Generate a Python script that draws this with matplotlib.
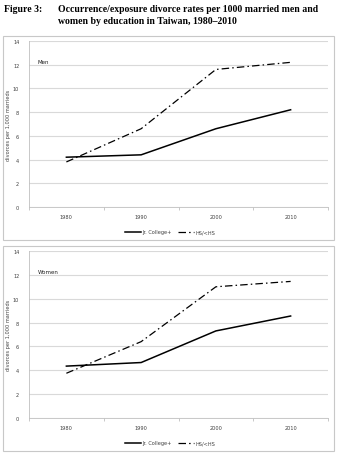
import numpy as np
import matplotlib.pyplot as plt
from matplotlib.patches import Rectangle

# ------------------------------------------------
# Data
# ------------------------------------------------
years = ["1980", "1990", "2000", "2010"]
men_college = [4.2, 4.4, 6.6, 8.2]
men_hs = [3.8, 6.6, 11.6, 12.2]
women_college = [4.35, 4.65, 7.3, 8.55]
women_hs = [3.75, 6.4, 11.0, 11.45]
yticks = [0, 2, 4, 6, 8, 10, 12, 14]

W, H = 338, 456
fig = plt.figure(figsize=(W / 100, H / 100), dpi=100)
fig.patch.set_facecolor("white")


def px_axes(left, top, right, bottom):
    return fig.add_axes([left / W, 1 - bottom / H, (right - left) / W, (bottom - top) / H])


def panel(box, area, college, hs, label, legend_y):
    # light gray frame around each chart
    bx0, by0, bx1, by1 = box
    fig.patches.append(Rectangle((bx0 / W, 1 - by1 / H), (bx1 - bx0) / W, (by1 - by0) / H,
                                 transform=fig.transFigure, fill=False,
                                 edgecolor="#c8c8c8", lw=0.8, zorder=0))
    ax = px_axes(*area)
    x = np.arange(len(years))
    l1, = ax.plot(x, college, color="black", lw=1.1, solid_joinstyle="miter")
    l2, = ax.plot(x, hs, color="black", lw=0.9, linestyle=(0, (6, 2.5, 1.2, 2.5)))
    ax.set_xlim(-0.5, len(years) - 0.5)
    ax.set_ylim(0, 14)
    ax.set_yticks(yticks)
    ax.set_yticklabels([str(v) for v in yticks])
    ax.set_xticks(x)
    ax.set_xticklabels(years)
    ax.set_xticks(np.arange(-0.5, len(years)), minor=True)
    ax.tick_params(axis="x", which="major", length=0, pad=5, labelsize=3.6, colors="#404040")
    ax.tick_params(axis="x", which="minor", length=2, color="#bfbfbf", width=0.6)
    ax.tick_params(axis="y", length=0, pad=7, labelsize=3.6, colors="#404040")
    ax.yaxis.grid(True, color="#d9d9d9", lw=0.8)
    ax.set_axisbelow(True)
    for s in ["top", "right"]:
        ax.spines[s].set_visible(False)
    ax.spines["left"].set_color("#bfbfbf")
    ax.spines["bottom"].set_color("#bfbfbf")
    ax.spines["left"].set_linewidth(0.6)
    ax.spines["bottom"].set_linewidth(0.6)
    ax.set_ylabel("divorces per 1,000 marrieds", fontsize=3.6, color="#404040")
    ax.yaxis.set_label_coords(-0.06, 0.5)
    ax.text(-0.38, 12.25, label, fontsize=4, color="#202020", va="center", ha="left")
    fig.legend([l1, l2], ["Jr. College+", "HS/<HS"], loc="center",
               bbox_to_anchor=(170 / W, 1 - legend_y / H), ncol=2, frameon=False,
               fontsize=3.6, handlelength=3.2, handletextpad=0.3, columnspacing=1.2,
               labelcolor="#404040")
    return ax


panel((3, 37, 334, 241), (29, 42, 328, 208), men_college, men_hs, "Men", 233)
panel((3, 247, 334, 452), (29, 252, 328, 419), women_college, women_hs, "Women", 444)

# ------------------------------------------------
# Title
# ------------------------------------------------
tfont = dict(family="Liberation Serif", weight="bold", fontsize=7.0, va="center", ha="left")
fig.text(4 / W, 1 - 9 / H, "Figure 3:", **tfont)
fig.text(58 / W, 1 - 9 / H, "Occurrence/exposure divorce rates per 1000 married men and", **tfont)
fig.text(58 / W, 1 - 22 / H, "women by education in Taiwan, 1980\u20132010", **tfont)

fig.savefig("out.png", dpi=100)
